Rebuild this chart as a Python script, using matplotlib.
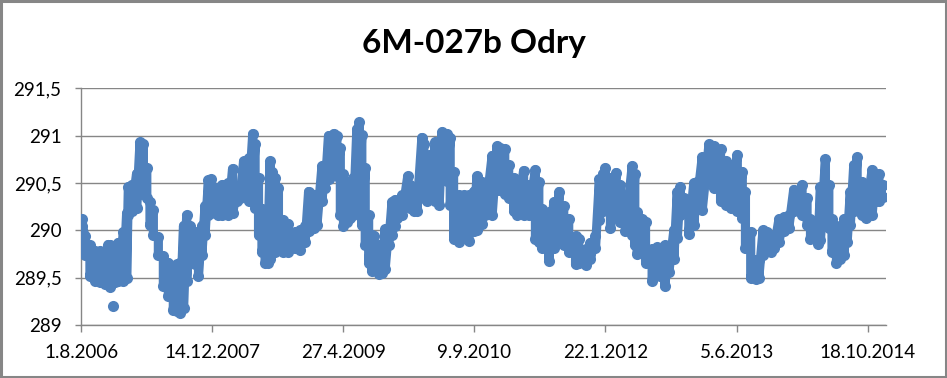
import matplotlib
matplotlib.use("Agg")
import matplotlib.pyplot as plt
from matplotlib.patches import Rectangle
import numpy as np

plt.rcParams['font.family'] = ['Lato', 'DejaVu Sans']

# groundwater level readings: day offset from 1.8.2006, highest and lowest level in that period
start = np.datetime64('2006-08-01')
days = [5, 15, 34, 53, 72, 92, 104, 111, 130, 142, 162, 174, 181, 193, 212, 225, 238, 251, 263, 276,
        295, 314, 333, 352, 365, 378, 391, 403, 416, 435, 448, 461, 473, 486, 496, 505, 524, 537, 550, 562,
        578, 594, 607, 620, 639, 655, 664, 677, 690, 702, 712, 721, 728, 740, 753, 772, 791, 817, 836, 855,
        868, 887, 900, 919, 931, 944, 963, 976, 989, 1001, 1014, 1027, 1039, 1052, 1061, 1071, 1084, 1097, 1109, 1116,
        1135, 1148, 1160, 1173, 1186, 1196, 1205, 1224, 1246, 1256, 1269, 1281, 1300, 1307, 1319, 1332, 1351, 1366, 1377, 1396,
        1408, 1421, 1440, 1459, 1478, 1497, 1510, 1529, 1542, 1568, 1587, 1599, 1616, 1631, 1650, 1663, 1688, 1707, 1733, 1746,
        1758, 1784, 1803, 1824, 1841, 1860, 1886, 1898, 1924, 1943, 1962, 1977, 1990, 2000, 2019, 2041, 2057, 2076, 2102, 2112,
        2121, 2140, 2153, 2178, 2197, 2210, 2226, 2242, 2261, 2274, 2286, 2299, 2318, 2337, 2350, 2369, 2395, 2414, 2439, 2458,
        2477, 2503, 2522, 2534, 2554, 2573, 2585, 2601, 2617, 2630, 2643, 2662, 2680, 2699, 2718, 2731, 2750, 2769, 2782, 2811,
        2820, 2839, 2852, 2864, 2881, 2896, 2909, 2922, 2934, 2947, 2960, 2979, 2992, 3017, 3030, 3043, 3057]
level_max = [290.12, 289.94, 289.84, 289.78, 289.78, 289.76, 289.85, 289.85, 289.80, 289.87, 289.98, 290.18, 290.46, 290.48, 290.60, 290.93, 290.91, 290.66, 290.30, 290.21,
             289.93, 289.73, 289.66, 289.62, 289.64, 289.66, 290.05, 290.16, 290.05, 289.98, 289.90, 290.05, 290.26, 290.53, 290.54, 290.46, 290.44, 290.48, 290.48, 290.50,
             290.65, 290.41, 290.44, 290.73, 290.76, 291.02, 290.91, 290.55, 290.23, 289.98, 289.70, 290.73, 290.62, 290.55, 290.45, 290.11, 290.07, 289.98, 290.00, 290.05,
             290.41, 290.37, 290.37, 290.68, 290.69, 291.00, 291.02, 291.00, 290.87, 290.59, 290.51, 290.44, 290.55, 291.07, 291.14, 291.01, 290.66, 290.16, 289.95, 289.94,
             289.84, 289.80, 290.01, 290.01, 290.30, 290.32, 290.30, 290.37, 290.57, 290.48, 290.41, 290.45, 290.98, 290.91, 290.59, 290.80, 290.93, 290.80, 291.04, 291.02,
             290.98, 290.62, 290.37, 290.37, 290.37, 290.41, 290.57, 290.51, 290.48, 290.79, 290.89, 290.87, 290.86, 290.69, 290.55, 290.51, 290.63, 290.48, 290.64, 290.51,
             290.23, 290.19, 290.30, 290.41, 290.26, 290.12, 289.94, 289.91, 289.80, 289.87, 289.94, 290.54, 290.60, 290.66, 290.55, 290.61, 290.48, 290.30, 290.68, 290.59,
             290.19, 290.12, 290.09, 289.80, 289.82, 289.78, 289.84, 289.80, 290.00, 290.40, 290.46, 290.34, 290.23, 290.50, 290.51, 290.77, 290.91, 290.89, 290.86, 290.73,
             290.69, 290.80, 290.62, 290.41, 289.98, 289.69, 289.69, 290.00, 289.98, 289.91, 289.94, 290.12, 290.14, 290.16, 290.43, 290.41, 290.48, 290.34, 290.12, 290.09,
             290.46, 290.75, 290.48, 290.12, 290.05, 290.01, 290.12, 290.12, 290.41, 290.69, 290.77, 290.51, 290.37, 290.64, 290.59, 290.59, 290.48]
level_min = [290.05, 289.74, 289.52, 289.47, 289.45, 289.43, 289.45, 289.40, 289.45, 289.47, 289.47, 289.50, 290.16, 290.20, 290.24, 290.38, 290.45, 290.34, 290.06, 289.95,
             289.74, 289.41, 289.31, 289.16, 289.15, 289.13, 289.18, 289.46, 289.70, 289.64, 289.52, 289.74, 289.95, 290.16, 290.18, 290.20, 290.16, 290.16, 290.24, 290.16,
             290.18, 290.31, 290.34, 290.38, 290.31, 290.49, 290.24, 289.95, 289.77, 289.66, 289.66, 289.70, 289.81, 289.77, 289.80, 289.77, 289.77, 289.81, 289.79, 289.88,
             289.99, 290.02, 290.06, 290.31, 290.45, 290.54, 290.59, 290.57, 290.16, 290.05, 290.09, 290.13, 290.16, 290.27, 290.40, 290.06, 289.84, 289.66, 289.57, 289.58,
             289.54, 289.55, 289.59, 289.84, 289.95, 290.05, 290.13, 290.16, 290.27, 290.24, 290.20, 290.20, 290.41, 290.34, 290.31, 290.34, 290.31, 290.27, 290.63, 290.52,
             290.27, 289.91, 289.88, 289.93, 289.89, 289.99, 290.00, 290.07, 290.16, 290.16, 290.43, 290.43, 290.38, 290.34, 290.20, 290.16, 290.16, 290.16, 289.91, 289.88,
             289.81, 289.68, 289.81, 289.95, 289.84, 289.77, 289.64, 289.65, 289.63, 289.70, 289.81, 290.11, 290.20, 290.24, 290.02, 290.16, 290.09, 289.99, 289.95, 289.84,
             289.75, 289.77, 289.66, 289.47, 289.56, 289.52, 289.41, 289.56, 289.70, 289.92, 290.16, 290.20, 289.96, 290.06, 290.31, 290.21, 290.52, 290.45, 290.31, 290.27,
             290.24, 290.20, 290.13, 289.81, 289.50, 289.49, 289.50, 289.74, 289.81, 289.77, 289.81, 289.88, 289.99, 290.02, 290.20, 290.24, 290.16, 290.06, 289.91, 289.86,
             289.90, 290.06, 290.02, 289.77, 289.66, 289.70, 289.74, 289.88, 290.06, 290.20, 290.24, 290.16, 290.13, 290.16, 290.31, 290.31, 290.35]
# isolated low reading
outlier_days = [121]
outlier_levels = [289.20]

tick_dates = ['2006-08-01', '2007-12-14', '2009-04-27', '2010-09-09', '2012-01-22', '2013-06-05', '2014-10-18']
tick_labels = ['1.8.2006', '14.12.2007', '27.4.2009', '9.9.2010', '22.1.2012', '5.6.2013', '18.10.2014']
y_ticks = [289, 289.5, 290, 290.5, 291, 291.5]
y_labels = ['289', '289,5', '290', '290,5', '291', '291,5']

# one reading per point: high then low of each period, in time order
x = []
y = []
for d, hi, lo in zip(days, level_max, level_min):
    x += [start + np.timedelta64(d, 'D')] * 2
    y += [hi, lo]
x = np.array(x)

blue = '#4F81BD'
grey = '#868686'

fig = plt.figure(figsize=(9.47, 3.78), dpi=100)
ax = fig.add_axes([81 / 947, 1 - 325 / 378, 805 / 947, (325 - 88.3) / 378])

# thick round-jointed trace fills the band between dense markers
ax.plot(x, y, color=blue, lw=6.6, solid_joinstyle='round', solid_capstyle='round', zorder=3)
ax.plot(x, y, 'o', color=blue, ms=8.0, mew=0, zorder=3)
ax.plot(start + np.array(outlier_days).astype('timedelta64[D]'), outlier_levels, 'o',
        color=blue, ms=8.0, mew=0, zorder=3)

ax.set_xlim(start, start + np.timedelta64(3070, 'D'))
ax.set_ylim(289, 291.5)
ax.set_xticks(np.array(tick_dates, dtype='datetime64[D]'))
ax.set_xticklabels(tick_labels)
ax.set_yticks(y_ticks)
ax.set_yticklabels(y_labels)

ax.grid(axis='y', color=grey, lw=1)
ax.set_axisbelow(True)
for s in ['top', 'right']:
    ax.spines[s].set_visible(False)
for s in ['left', 'bottom']:
    ax.spines[s].set_color(grey)
    ax.spines[s].set_linewidth(1)
ax.tick_params(axis='both', colors=grey, length=4, width=1, labelcolor='#000000', labelsize=13.5)
ax.tick_params(axis='x', length=5, pad=9)
ax.tick_params(axis='y', pad=10)

fig.text(0.5, 1 - 53 / 378, '6M-027b Odry', ha='center', va='baseline',
         fontsize=24, fontweight='bold')
fig.patches.append(Rectangle((0.0015, 0.003), 0.997, 0.994, transform=fig.transFigure,
                             fill=False, edgecolor=grey, lw=2.2))

fig.savefig('out.png', dpi=100)
